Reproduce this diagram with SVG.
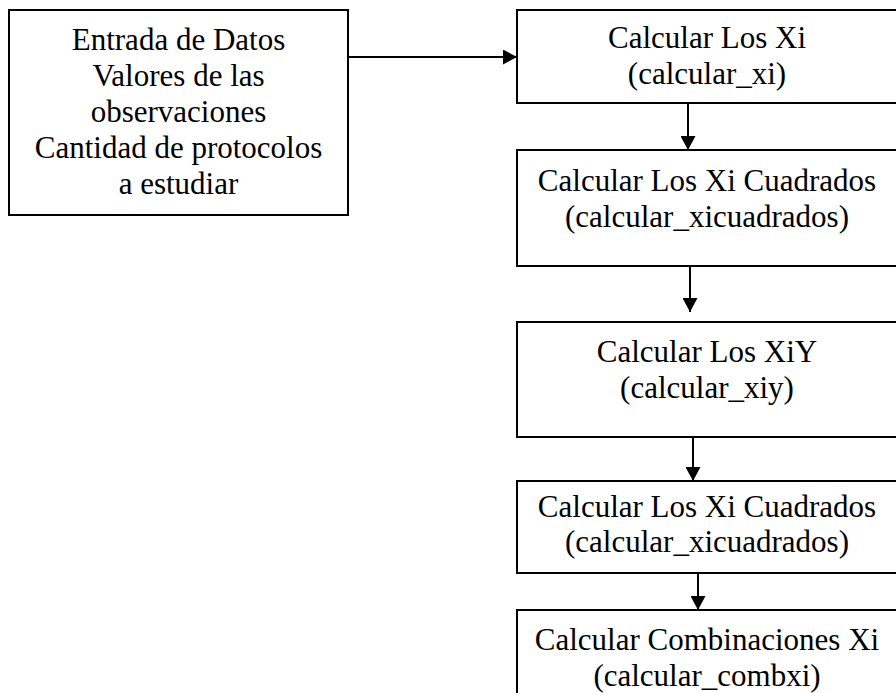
<svg xmlns="http://www.w3.org/2000/svg" width="896" height="693" viewBox="0 0 896 693">
  <style>
    .box { fill: #ffffff; stroke: #000000; stroke-width: 2; }
    .label { font-family: "Liberation Serif", "Times New Roman", serif; font-size: 31px; fill: #000000; text-anchor: middle; }
    .edge { stroke: #000000; stroke-width: 2; fill: none; marker-end: url(#arrow); }
  </style>
  <defs>
    <marker id="arrow" markerUnits="userSpaceOnUse" markerWidth="15" markerHeight="15" refX="14" refY="7.5" orient="auto">
      <path d="M0,0 L14,7.5 L0,15 Z" fill="#000000"/>
    </marker>
  </defs>
  <rect x="0" y="0" width="896" height="693" fill="#ffffff"/>

  <g id="connectors">
    <line class="edge" x1="348" y1="57" x2="517" y2="57"/>
    <line class="edge" x1="688" y1="103" x2="688" y2="150"/>
    <line class="edge" x1="690" y1="266" x2="690" y2="312"/>
    <line class="edge" x1="693" y1="437" x2="693" y2="481"/>
    <line class="edge" x1="698" y1="573" x2="698" y2="610"/>
  </g>

  <g id="entrada">
    <rect class="box" x="9" y="10" width="339" height="205"/>
    <text class="label" x="178.5" y="50">Entrada de Datos</text>
    <text class="label" x="178.5" y="86">Valores de las</text>
    <text class="label" x="178.5" y="122">observaciones</text>
    <text class="label" x="178.5" y="158">Cantidad de protocolos</text>
    <text class="label" x="178.5" y="194">a estudiar</text>
  </g>

  <g id="calcular_xi">
    <rect class="box" x="517" y="10" width="385" height="93"/>
    <text class="label" x="707" y="48">Calcular Los Xi</text>
    <text class="label" x="707" y="84">(calcular_xi)</text>
  </g>

  <g id="calcular_xicuadrados_1">
    <rect class="box" x="517" y="150" width="385" height="116"/>
    <text class="label" x="707" y="191">Calcular Los Xi Cuadrados</text>
    <text class="label" x="707" y="227">(calcular_xicuadrados)</text>
  </g>

  <g id="calcular_xiy">
    <rect class="box" x="517" y="322" width="385" height="115"/>
    <text class="label" x="707" y="362">Calcular Los XiY</text>
    <text class="label" x="707" y="398">(calcular_xiy)</text>
  </g>

  <g id="calcular_xicuadrados_2">
    <rect class="box" x="517" y="481" width="385" height="92"/>
    <text class="label" x="707" y="517">Calcular Los Xi Cuadrados</text>
    <text class="label" x="707" y="552">(calcular_xicuadrados)</text>
  </g>

  <g id="calcular_combxi">
    <rect class="box" x="517" y="610" width="385" height="100"/>
    <text class="label" x="707" y="650">Calcular Combinaciones Xi</text>
    <text class="label" x="707" y="686">(calcular_combxi)</text>
  </g>
</svg>
